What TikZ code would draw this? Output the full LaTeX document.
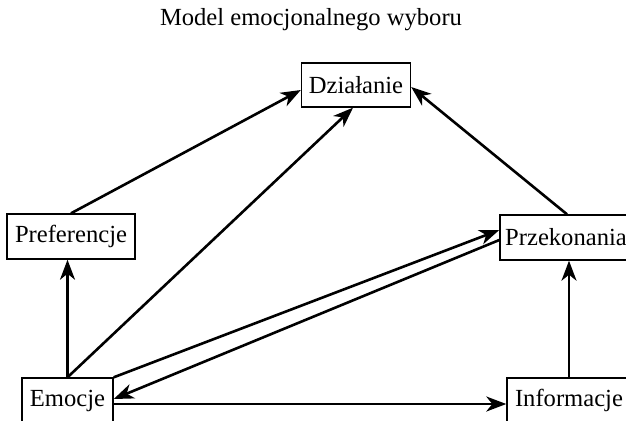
\documentclass[tikz,border=0pt]{standalone}
\usepackage{fontspec}
\setmainfont{Liberation Serif}
\usetikzlibrary{arrows.meta}

\begin{document}
\begin{tikzpicture}[x=0.5pt, y=-0.5pt, >={Stealth[length=10pt, width=7.5pt, inset=3pt]}, font=\fontsize{12.3}{14}\selectfont]
		\tikzstyle{box} = [draw=black, line width=0.7pt, rectangle, inner sep=0pt]
		\tikzstyle{link} = [->, line width=1.3pt]
		\useasboundingbox (0,0) rectangle (626,420);

		\node[draw=none]						at (311, 20) 	(title) {Model emocjonalnego wyboru};
		\node[box, minimum width=54.5pt, minimum height=22pt]	at (356, 85) 	(dzi) 	{Działanie};
		\node[box, minimum width=64pt, minimum height=22.5pt]	at (71, 236.5) 	(pref) 	{Preferencje};
		\node[box, minimum width=66pt, minimum height=22.5pt]	at (566, 237.5) 	(prz) 	{Przekonania};
		\node[box, minimum width=45.5pt, minimum height=22.5pt]	at (67.5, 400.5) 	(emo) 	{Emocje};
		\node[box, minimum width=62pt, minimum height=22.5pt]	at (569, 400.5) 	(inf) 	{Informacje};

		\path[link]
		(pref.north)				edge	([yshift=-2.5pt]dzi.west)
		(emo.north)				edge	(emo.north |- pref.south)
		(emo.north)				edge	([xshift=-1.5pt]dzi.south)
		(emo.north east)			edge	([yshift=3.75pt]prz.west)
		([yshift=-1.25pt]prz.west)		edge	([yshift=0.75pt]emo.east)
		([yshift=-1.75pt]emo.east)		edge	([yshift=-1.75pt]inf.west)
		(inf.north)				edge	(inf.north |- prz.south)
		([xshift=0.5pt]prz.north)		edge	([yshift=-1pt]dzi.east);
		\end{tikzpicture}
\end{document}
